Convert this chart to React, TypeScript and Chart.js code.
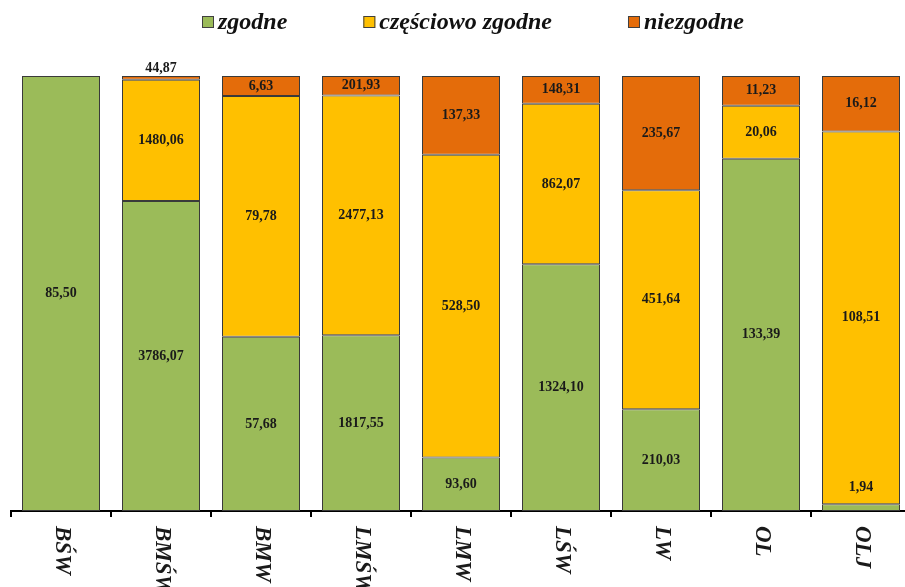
import React, { useEffect, useRef } from 'react';
import { Chart, registerables } from 'chart.js';

Chart.register(...registerables);

const categories = ['BŚW', 'BMŚW', 'BMW', 'LMŚW', 'LMW', 'LŚW', 'LW', 'OL', 'OLJ'];
const seriesNames = ['zgodne', 'częściowo zgodne', 'niezgodne'];
const zgodne = [85.5, 3786.07, 57.68, 1817.55, 93.6, 1324.1, 210.03, 133.39, 1.94];
const czesciowoZgodne = [0, 1480.06, 79.78, 2477.13, 528.5, 862.07, 451.64, 20.06, 108.51];
const niezgodne = [0, 44.87, 6.63, 201.93, 137.33, 148.31, 235.67, 11.23, 16.12];
const seriesColors = ['#9BBB59', '#FFC000', '#E46C0A'];

const rawSeries = [zgodne, czesciowoZgodne, niezgodne];
const totals = categories.map((_, i) => zgodne[i] + czesciowoZgodne[i] + niezgodne[i]);
const toPct = (arr: number[]) => arr.map((v, i) => (v ? (v / totals[i]) * 100 : null));

const fmt = (v: number) => v.toFixed(2).replace('.', ',');

const drawPlugin = {
  id: 'customDraw',
  afterDraw(chart: any) {
    const ctx = chart.ctx as CanvasRenderingContext2D;
    ctx.save();
    // data labels
    ctx.font = 'bold 14px "Liberation Serif"';
    ctx.fillStyle = '#1a1a1a';
    ctx.textAlign = 'center';
    ctx.textBaseline = 'middle';
    chart.data.datasets.forEach((_: any, di: number) => {
      const meta = chart.getDatasetMeta(di);
      meta.data.forEach((bar: any, i: number) => {
        const v = rawSeries[di][i];
        if (!v) return;
        const { x, y, base } = bar.getProps(['x', 'y', 'base'], true);
        const top = Math.min(y, base);
        const bottom = Math.max(y, base);
        const h = bottom - top;
        let ly = (top + bottom) / 2;
        if (h < 10) ly = di === rawSeries.length - 1 ? top - 8 : top - 17;
        ctx.fillText(fmt(v), x, ly);
      });
    });

    // x labels rotated (reading top to bottom)
    const xs = chart.scales.x;
    ctx.font = 'italic bold 23px "Liberation Serif"';
    ctx.fillStyle = '#1a1a1a';
    ctx.textAlign = 'left';
    ctx.textBaseline = 'middle';
    chart.data.labels.forEach((lab: string, i: number) => {
      const x = xs.getPixelForTick(i);
      ctx.save();
      ctx.translate(x + 1, xs.top + 15);
      ctx.rotate(Math.PI / 2);
      ctx.fillText(lab, 0, 0);
      ctx.restore();
    });

    // legend
    ctx.font = 'italic bold 24px "Liberation Serif"';
    ctx.textAlign = 'left';
    ctx.textBaseline = 'middle';
    const box = 12;
    const gapBoxText = 4;
    const gapItems = 76;
    const items = chart.data.datasets.map((ds: any) => ({
      label: ds.label,
      color: ds.backgroundColor,
      w: ctx.measureText(ds.label).width,
    }));
    const total =
      items.reduce((s: number, it: any) => s + box + gapBoxText + it.w, 0) + gapItems * (items.length - 1);
    let cx = 473 - total / 2;
    const cy = 22;
    items.forEach((it: any) => {
      ctx.fillStyle = it.color;
      ctx.fillRect(cx, cy - box / 2, box, box);
      ctx.strokeStyle = '#404040';
      ctx.lineWidth = 1;
      ctx.strokeRect(cx + 0.5, cy - box / 2 + 0.5, box - 1, box - 1);
      ctx.fillStyle = '#111';
      ctx.fillText(it.label, cx + box + gapBoxText, cy + 1);
      cx += box + gapBoxText + it.w + gapItems;
    });
    ctx.restore();
  },
};

export default function App() {
  const ref = useRef<HTMLCanvasElement | null>(null);
  useEffect(() => {
    if (!ref.current) return;
    const chart = new Chart(ref.current, {
      type: 'bar',
      data: {
        labels: categories,
        datasets: rawSeries.map((arr, di) => ({
          label: seriesNames[di],
          data: toPct(arr) as any,
          backgroundColor: seriesColors[di],
          borderColor: '#3a3a3a',
          borderWidth: 1,
          borderSkipped: false,
          barPercentage: 0.78,
          categoryPercentage: 1,
        })),
      },
      options: {
        responsive: false,
        animation: false,
        layout: { padding: { left: 11, right: 5, top: 76, bottom: 0 } },
        plugins: { legend: { display: false }, tooltip: { enabled: false } },
        scales: {
          x: {
            stacked: true,
            grid: {
              display: true,
              drawOnChartArea: false,
              drawTicks: true,
              tickLength: 6,
              color: '#000',
              lineWidth: 2,
              offset: true,
            },
            border: { display: true, color: '#000', width: 2 },
            ticks: { display: false },
            afterFit: (scale: any) => {
              scale.height = 76;
            },
          },
          y: { display: false, stacked: true, min: 0, max: 100 },
        },
      },
      plugins: [drawPlugin],
    });
    return () => chart.destroy();
  }, []);
  return (
    <div style={{ position: 'fixed', left: 0, top: 0, width: 905, height: 587, overflow: 'hidden', background: '#fff' }}>
      <canvas ref={ref} width={916} height={587} style={{ display: 'block' }} />
    </div>
  );
}
